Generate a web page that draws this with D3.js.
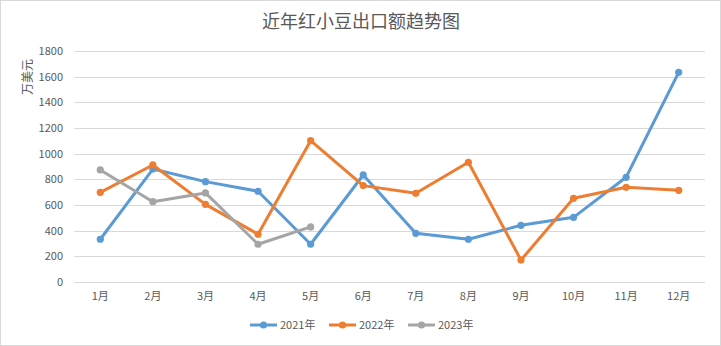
<!DOCTYPE html>
<html><head><meta charset="utf-8">
<script src="https://cdn.jsdelivr.net/npm/d3@7"></script>
<style>
html,body{margin:0;padding:0;background:#fff;}
svg{display:block;}
</style></head>
<body>
<svg id="c" width="721" height="346"></svg>
<script>
const months = ["1月","2月","3月","4月","5月","6月","7月","8月","9月","10月","11月","12月"];
const s2021 = [333, 880, 782, 707, 294, 834, 379, 333, 442, 504, 816, 1634];
const s2022 = [699, 912, 605, 372, 1101, 751, 691, 933, 171, 652, 738, 714];
const s2023 = [873, 626, 694, 294, 429];
const yTicks = [0, 200, 400, 600, 800, 1000, 1200, 1400, 1600, 1800];
const seriesNames = ["2021年", "2022年", "2023年"];
const colors = ["#5B9BD5", "#ED7D31", "#A5A5A5"];

const series = [s2021, s2022, s2023];
const svg = d3.select("#c");
const W = 721, H = 346;
const font = "'Noto Sans CJK SC', 'Noto Sans', sans-serif";
const textColor = "#595959";

svg.append("rect").attr("x",0.5).attr("y",0.5).attr("width",W-1).attr("height",H-1)
  .attr("fill","#fff").attr("stroke","#d9d9d9");

const L = 74, R = 705, T = 51, B = 282;
const x = d3.scaleBand().domain(months).range([L, R]);
const y = d3.scaleLinear().domain([0, 1800]).range([B, T]);

// gridlines
svg.append("g").selectAll("line").data(yTicks).join("line")
  .attr("x1", L).attr("x2", R)
  .attr("y1", d => Math.round(y(d)) + 0.5).attr("y2", d => Math.round(y(d)) + 0.5)
  .attr("stroke", "#d9d9d9").attr("stroke-width", 1);

// y axis labels
const yAxis = d3.axisLeft(y).tickValues(yTicks).tickFormat(d3.format("d")).tickSize(0).tickPadding(0);
const gy = svg.append("g").attr("transform", `translate(${L-11},0)`).call(yAxis);
gy.select(".domain").remove();
gy.selectAll("text").attr("font-family", font).attr("font-size", 11).attr("fill", textColor);

// x axis labels
const xAxis = d3.axisBottom(x).tickSize(0).tickPadding(0);
const gx = svg.append("g").attr("transform", `translate(0,${B+10})`).call(xAxis);
gx.select(".domain").remove();
gx.selectAll("text").attr("font-family", font).attr("font-size", 11).attr("fill", textColor);

// title
svg.append("text").attr("x", 361).attr("y", 28).attr("text-anchor", "middle")
  .attr("font-family", font).attr("font-size", 18).attr("fill", textColor)
  .text("近年红小豆出口额趋势图");

// y axis title
svg.append("text").attr("transform", "translate(32,77) rotate(-90)")
  .attr("text-anchor", "middle").attr("font-family", font).attr("font-size", 12)
  .attr("fill", textColor).text("万美元");

const cx = (d, i) => x(months[i]) + x.bandwidth() / 2;
const line = d3.line().x(cx).y(d => y(d));

series.forEach((s, k) => {
  const g = svg.append("g");
  g.append("path").datum(s).attr("d", line).attr("fill", "none")
    .attr("stroke", colors[k]).attr("stroke-width", 3).attr("stroke-linejoin", "round").attr("stroke-linecap", "round");
  g.selectAll("circle").data(s).join("circle")
    .attr("cx", cx).attr("cy", d => y(d)).attr("r", 3.6).attr("fill", colors[k]);
});

// legend
const legX = [250, 329, 408];
const lg = svg.append("g");
seriesNames.forEach((n, k) => {
  const ly = 325;
  lg.append("line").attr("x1", legX[k]).attr("x2", legX[k] + 27).attr("y1", ly).attr("y2", ly)
    .attr("stroke", colors[k]).attr("stroke-width", 3);
  lg.append("circle").attr("cx", legX[k] + 13.5).attr("cy", ly).attr("r", 3.6).attr("fill", colors[k]);
  lg.append("text").attr("x", legX[k] + 30).attr("y", ly + 4).attr("font-family", font)
    .attr("font-size", 11).attr("fill", textColor).text(n);
});
</script>
</body></html>
